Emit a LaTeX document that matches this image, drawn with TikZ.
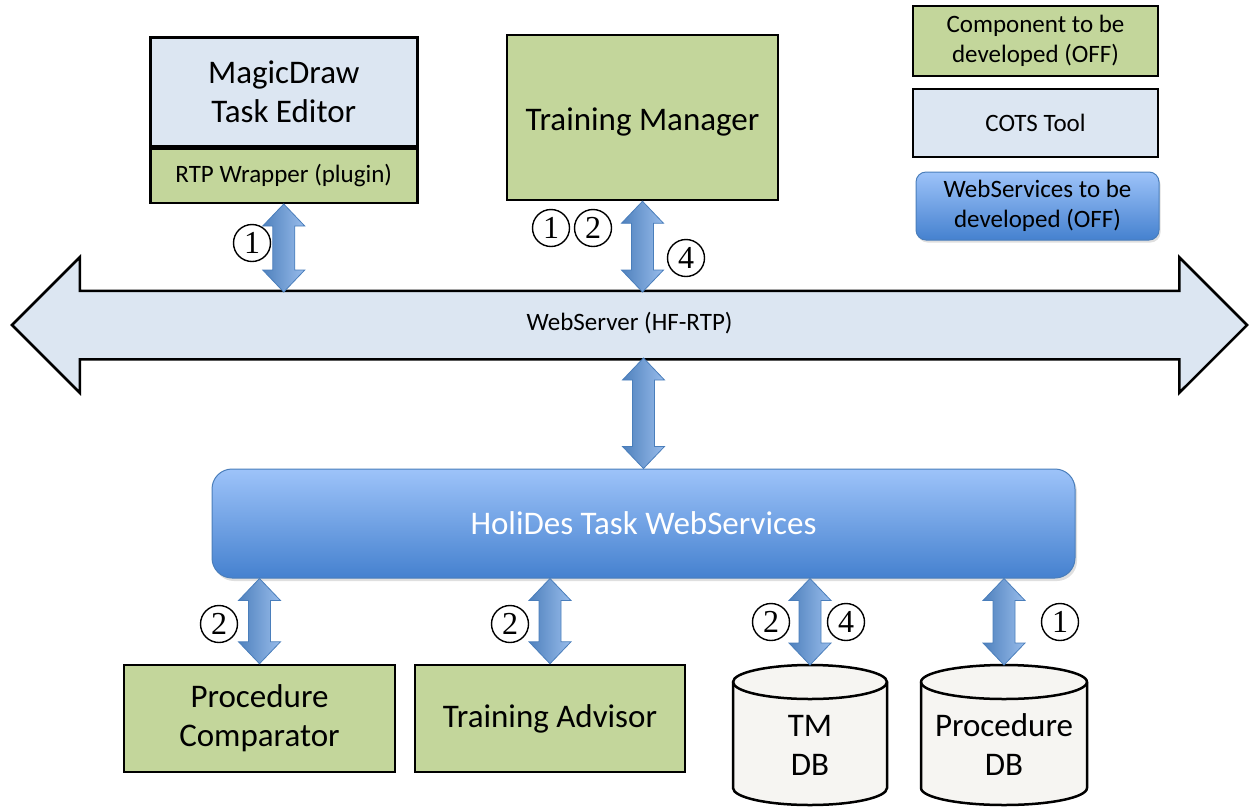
\documentclass[tikz,border=0pt]{standalone}
\usepackage{fontspec}
\setmainfont{Carlito}
\newfontfamily\numfont{Liberation Serif}
\usetikzlibrary{shapes.arrows,calc,shadows}
\definecolor{cots}{HTML}{DCE6F2}
\definecolor{devgreen}{HTML}{C3D69B}
\definecolor{dbfill}{HTML}{F6F5F2}
\definecolor{arrdark}{HTML}{4F81BD}
\definecolor{arrlight}{HTML}{98BCEB}
\definecolor{arrborder}{HTML}{4A7EBB}
\definecolor{holitop}{HTML}{9DC3F9}
\definecolor{holibot}{HTML}{4581CF}
\tikzset{
  box/.style={draw=black, line width=2.5pt, inner sep=0pt, align=center},
  big/.style={font=\fontsize{33}{39}\selectfont},
  small/.style={font=\fontsize{25}{30}\selectfont},
  vdarr/.style={left color=arrdark, right color=arrlight, draw=arrborder, line width=0.8pt, line join=miter},
  wsbox/.style={top color=holitop, bottom color=holibot, draw=arrborder, line width=1pt, inner sep=0pt, align=center},
  num/.style={circle, draw=black, line width=1.4pt, minimum size=37pt, inner sep=0pt,
    font=\numfont\fontsize{32}{32}\selectfont},
  bus/.style={double arrow, draw=black, line width=2.5pt, fill=cots, minimum height=1235pt,
    double arrow head extend=33.5pt, inner xsep=0pt, inner ysep=23pt, text height=15pt, text depth=5pt,
    font=\fontsize{25}{30}\selectfont},
  db/.style={draw=black, line width=2.5pt, fill=dbfill}
}
\newcommand\vdarrow[2]{\path[vdarr] (#1) -- ($(#1)+(21,22)$) -- ($(#1)+(11,22)$) -- ($(#2)+(11,-22)$) -- ($(#2)+(21,-22)$) -- (#2) -- ($(#2)+(-21,-22)$) -- ($(#2)+(-11,-22)$) -- ($(#1)+(-11,22)$) -- ($(#1)+(-21,22)$) -- cycle;}
\begin{document}
\begin{tikzpicture}[x=1pt,y=-1pt]
\path[use as bounding box] (0,0) rectangle (1251,807);

% top components
\node[box, big, fill=cots, minimum width=267pt, minimum height=109pt, anchor=north west] (mag) at (149,36) {MagicDraw\\Task Editor};
\node[box, small, fill=devgreen, minimum width=267pt, minimum height=54pt, anchor=north] (wrap) at (mag.south) {RTP Wrapper (plugin)};
\node[box, big, fill=devgreen, minimum width=271pt, minimum height=165pt, text height=30pt, text depth=4pt] (tm) at (642.5,117.5) {Training Manager};

% legend
\node[box, small, fill=devgreen, minimum width=245pt, minimum height=70pt] (lg1) at (1035.5,41) {Component to be\\developed (OFF)};
\node[box, small, fill=cots, minimum width=245pt, minimum height=68pt] (lg2) at (1035.5,123) {COTS Tool};
\node[wsbox, small, rounded corners=10pt, minimum width=243pt, minimum height=68pt,
  drop shadow={opacity=0.25, shadow xshift=1.5pt, shadow yshift=-2.5pt}] (lg3) at (1037.5,206) {WebServices to be\\developed (OFF)};

% bus
\node[bus] (bus) at (629.5,325) {WebServer (HF-RTP)};
\coordinate (busT) at (0,292);
\coordinate (busB) at (0,358);

% HoliDes
\node[wsbox, big, text=white, rounded corners=20pt, minimum width=863pt, minimum height=109pt,
  drop shadow={opacity=0.25, shadow xshift=2pt, shadow yshift=-3pt}] (holi) at (643.5,523.5) {HoliDes Task WebServices};

% bottom components
\node[box, big, fill=devgreen, minimum width=271pt, minimum height=107pt] (pc) at (259.5,718.5) {Procedure\\Comparator};
\node[box, big, fill=devgreen, minimum width=270pt, minimum height=107pt] (ta) at (550,718.5) {Training Advisor};

% databases
\path[db] (733,682) -- (733,788) arc[start angle=180, end angle=360, x radius=77pt, y radius=17pt]
  -- (887,682) arc[start angle=0, end angle=180, x radius=77pt, y radius=17pt] -- cycle;
\draw[line width=2.5pt] (733,682) arc[start angle=180, end angle=360, x radius=77pt, y radius=17pt];
\node[big, align=center, inner sep=0pt] (tmdb) at (810,745) {TM\\DB};
\coordinate (tmdbtop) at (810,665);

\path[db] (921,682) -- (921,788) arc[start angle=180, end angle=360, x radius=83pt, y radius=17pt]
  -- (1087,682) arc[start angle=0, end angle=180, x radius=83pt, y radius=17pt] -- cycle;
\draw[line width=2.5pt] (921,682) arc[start angle=180, end angle=360, x radius=83pt, y radius=17pt];
\node[big, align=center, inner sep=0pt] (pdb) at (1004,745) {Procedure\\DB};
\coordinate (pdbtop) at (1004,665);

% connector end points
\coordinate (a1) at (wrap.south |- busT);
\coordinate (a2) at (tm.south |- busT);
\coordinate (a3t) at (holi.north |- busB);
\coordinate (b1) at (holi.south -| pc.north);
\coordinate (b2) at (holi.south -| ta.north);
\coordinate (b3) at (holi.south -| tmdbtop);
\coordinate (b4) at (holi.south -| pdbtop);

% double arrows
\vdarrow{wrap.south}{a1}
\vdarrow{tm.south}{a2}
\vdarrow{a3t}{holi.north}
\vdarrow{b1}{pc.north}
\vdarrow{b2}{ta.north}
\vdarrow{b3}{tmdbtop}
\vdarrow{b4}{pdbtop}

% numbers
\node[num] (n1) at (252,243) {1};
\node[num] (n2) at (551,228) {1};
\node[num] (n3) at (593,228) {2};
\node[num] (n4) at (686,258) {4};
\node[num] (n5) at (219,624) {2};
\node[num] (n6) at (510,624) {2};
\node[num] (n7) at (771,622) {2};
\node[num] (n8) at (846,622) {4};
\node[num] (n9) at (1060,622) {1};
\end{tikzpicture}
\end{document}
